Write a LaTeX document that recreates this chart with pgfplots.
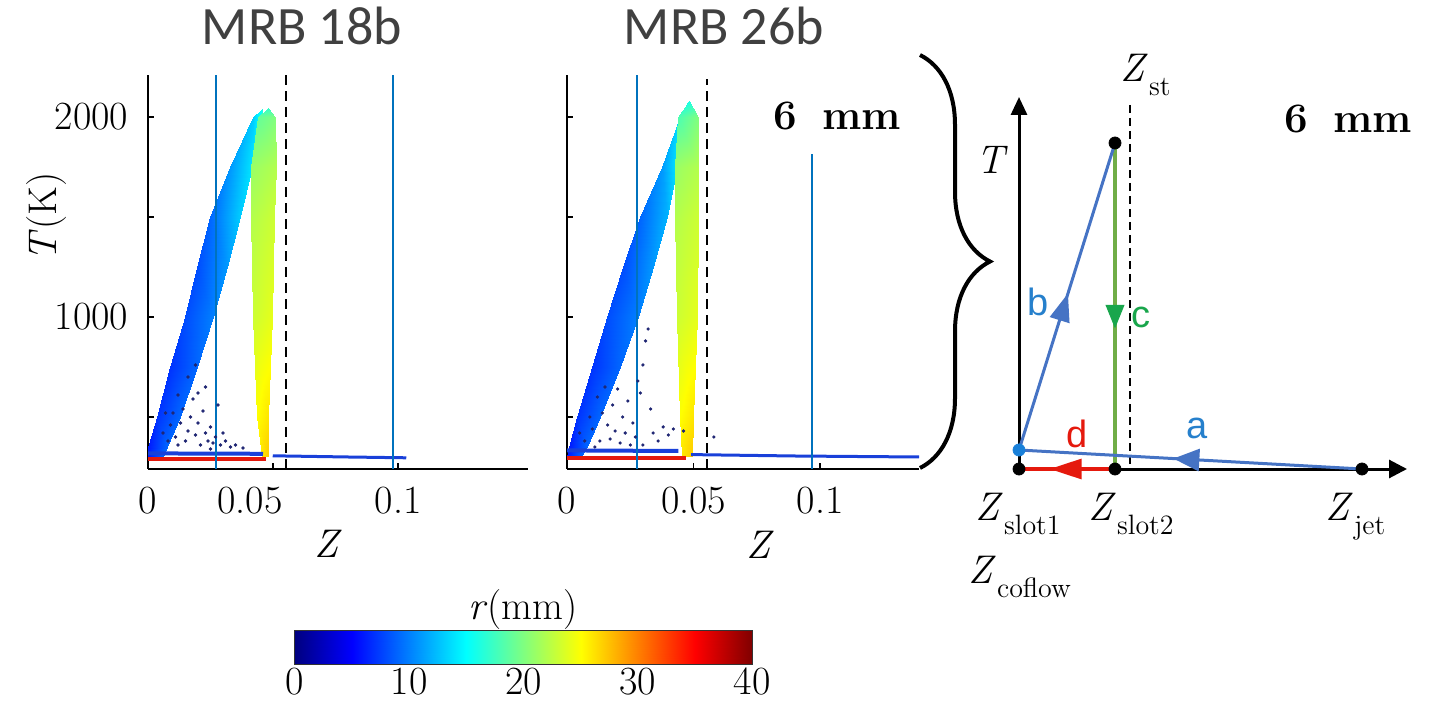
\documentclass[border=0pt]{standalone}
\usepackage{fontspec}
\usepackage{pgfplots}
\pgfplotsset{compat=1.18}
\usetikzlibrary{arrows.meta,decorations.markings,decorations.pathreplacing}
\newfontfamily\carlito{Carlito}
\newfontfamily\libsans{Liberation Sans}
\newcommand{\fs}{\fontsize{20}{24}\selectfont}
\newcommand{\Zs}[1]{\textit{Z}\kern0.5pt\raisebox{-7pt}{\fontsize{14}{16}\selectfont #1}}
\definecolor{mblue}{rgb}{0,0.447,0.741}
\definecolor{sblue}{rgb}{0.27,0.45,0.77}
\definecolor{sdot}{rgb}{0.1,0.5,0.85}
\definecolor{sgreen}{rgb}{0.44,0.68,0.28}
\definecolor{sgreenA}{rgb}{0.1,0.65,0.3}
\definecolor{labblue}{rgb}{0.15,0.5,0.8}
\definecolor{titlegray}{rgb}{0.25,0.25,0.25}
\definecolor{stripblue}{rgb}{0.1,0.25,0.85}
\definecolor{stripred}{rgb}{0.9,0.1,0.05}
\definecolor{dotnavy}{rgb}{0.12,0.15,0.45}

\pgfplotsset{
  mrb/.style={
    anchor=south west, scale only axis, height=197pt,
    ymin=240, ymax=2210,
    axis x line*=bottom, axis y line*=left,
    axis line style={line width=1pt, -},
    tick align=inside, major tick length=3pt,
    tick style={line width=0.8pt, black},
    ytick={500,1000,1500,2000},
    tick label style={font=\fs},
    /pgf/number format/assume math mode=true,
    xticklabel style={yshift=-5.5pt},
    yticklabel style={xshift=-6.3pt},
    scaled x ticks=false,
    colormap/jet, point meta min=0, point meta max=40,
  },
  band/.style={patch, shader=interp, point meta=explicit},
}

\begin{document}
\begin{tikzpicture}
\path[use as bounding box] (0pt,0pt) rectangle (717.5pt,353pt);

% ---------------- MRB 18b ----------------
\begin{axis}[mrb, at={(74pt,118.5pt)}, width=190pt,
  xmin=0, xmax=0.152,
  xtick={0,0.05,0.1}, xticklabels={0,,0.1},
  extra x ticks={0.0408}, extra x tick labels={0.05},
  extra x tick style={major tick length=0pt, grid=none},
  yticklabels={,1000,,2000}]
% branch b (lean side)
\addplot[band] table[meta=c] {
x y c
0.0000 300 6
0.0060 300 9
0.0001 350 6
0.0060 300 9
0.0075 350 9
0.0001 350 6
0.0001 350 6
0.0075 350 9
0.0035 500 7
0.0075 350 9
0.0128 500 9
0.0035 500 7
0.0035 500 7
0.0128 500 9
0.0088 750 7
0.0128 500 9
0.0195 750 9
0.0088 750 7
0.0088 750 7
0.0195 750 9
0.0148 1000 8
0.0195 750 9
0.0261 1000 10
0.0148 1000 8
0.0148 1000 8
0.0261 1000 10
0.0195 1250 8
0.0261 1000 10
0.0315 1250 11
0.0195 1250 8
0.0195 1250 8
0.0315 1250 11
0.0248 1500 9
0.0315 1250 11
0.0368 1500 13
0.0248 1500 9
0.0248 1500 9
0.0368 1500 13
0.0328 1750 11
0.0368 1500 13
0.0415 1750 14
0.0328 1750 11
0.0328 1750 11
0.0415 1750 14
0.0421 2000 13
0.0415 1750 14
0.0461 2000 16
0.0421 2000 13
0.0421 2000 13
0.0461 2000 16
0.0455 2040 16
};
% vertical band c
\addplot[band] table[meta=c] {
x y c
0.0455 300 26
0.0481 300 27
0.0435 500 25
0.0481 300 27
0.0481 500 26
0.0435 500 25
0.0435 500 25
0.0481 500 26
0.0420 1000 23
0.0481 500 26
0.0495 1000 24
0.0420 1000 23
0.0420 1000 23
0.0495 1000 24
0.0413 1500 22
0.0495 1000 24
0.0505 1500 23
0.0413 1500 22
0.0413 1500 22
0.0505 1500 23
0.0413 1750 21
0.0505 1500 23
0.0513 1750 22
0.0413 1750 21
0.0413 1750 21
0.0513 1750 22
0.0440 2000 19
0.0513 1750 22
0.0510 2000 20
0.0440 2000 19
0.0440 2000 19
0.0510 2000 20
0.0478 2045 17
};
% mixing lines a and d
\addplot[stripblue, line width=2pt] coordinates {(0,318) (0.046,316)};
\addplot[stripblue, line width=1.5pt] coordinates {(0.0499,306) (0.080,300) (0.1033,296)};
\addplot[stripred, line width=2pt] coordinates {(0,292) (0.047,292)};
% scattered samples
\addplot[only marks, mark=*, mark size=0.6pt, dotnavy] coordinates {
(0.006,420) (0.008,380) (0.009,460) (0.010,520) (0.011,400) (0.012,610)
(0.013,470) (0.014,540) (0.015,380) (0.016,430) (0.017,500) (0.018,590)
(0.019,410) (0.020,470) (0.021,360) (0.022,530) (0.023,420) (0.024,380)
(0.025,450) (0.026,370) (0.027,400) (0.029,360) (0.031,380) (0.033,350)
(0.035,360) (0.038,345) (0.016,700) (0.019,760) (0.023,650) (0.028,560)
(0.012,360) (0.007,520) (0.020,620) (0.025,340) (0.030,420)};
% reference lines
\addplot[mblue, line width=1pt] coordinates {(0.0272,240) (0.0272,2210)};
\addplot[mblue, line width=1pt] coordinates {(0.0980,240) (0.0980,2210)};
\addplot[black, line width=1.2pt, dash pattern=on 5pt off 3pt] coordinates {(0.0552,240) (0.0552,2210)};
\end{axis}

% ---------------- MRB 26b ----------------
\begin{axis}[mrb, at={(283.5pt,118.5pt)}, width=176pt,
  xmin=0, xmax=0.139,
  xtick={0,0.05,0.1}, xticklabels={0,0.05,0.1},
  yticklabels={}]
\addplot[band] table[meta=c] {
x y c
0.0000 300 6
0.0055 300 9
0.0009 350 6
0.0055 300 9
0.0078 350 9
0.0009 350 6
0.0009 350 6
0.0078 350 9
0.0038 500 7
0.0078 350 9
0.0130 500 9
0.0038 500 7
0.0038 500 7
0.0130 500 9
0.0098 750 7
0.0130 500 9
0.0209 750 9
0.0098 750 7
0.0098 750 7
0.0209 750 9
0.0157 1000 8
0.0209 750 9
0.0282 1000 10
0.0157 1000 8
0.0157 1000 8
0.0282 1000 10
0.0223 1250 8
0.0282 1000 10
0.0341 1250 11
0.0223 1250 8
0.0223 1250 8
0.0341 1250 11
0.0289 1500 9
0.0341 1250 11
0.0394 1500 12
0.0289 1500 9
0.0289 1500 9
0.0394 1500 12
0.0374 1750 11
0.0394 1500 12
0.0434 1750 14
0.0374 1750 11
0.0374 1750 11
0.0434 1750 14
0.0447 2000 14
0.0434 1750 14
0.0480 2000 16
0.0447 2000 14
0.0447 2000 14
0.0480 2000 16
0.0478 2075 16
};
\addplot[band] table[meta=c] {
x y c
0.0453 300 26
0.0493 300 27
0.0445 500 25
0.0493 300 27
0.0499 500 26
0.0445 500 25
0.0445 500 25
0.0499 500 26
0.0434 1000 23
0.0499 500 26
0.0513 1000 24
0.0434 1000 23
0.0434 1000 23
0.0513 1000 24
0.0427 1500 22
0.0513 1000 24
0.0519 1500 23
0.0427 1500 22
0.0427 1500 22
0.0519 1500 23
0.0427 1750 21
0.0519 1500 23
0.0519 1750 22
0.0427 1750 21
0.0427 1750 21
0.0519 1750 22
0.0440 2000 18
0.0519 1750 22
0.0519 2000 20
0.0440 2000 18
0.0440 2000 18
0.0519 2000 20
0.0480 2080 16
};
\addplot[stripblue, line width=2pt] coordinates {(0,333) (0.044,330)};
\addplot[stripblue, line width=1.5pt] coordinates {(0.049,312) (0.090,305) (0.139,300)};
\addplot[stripred, line width=2pt] coordinates {(0,294) (0.047,294)};
\addplot[only marks, mark=*, mark size=0.6pt, dotnavy] coordinates {
(0.005,420) (0.007,380) (0.009,500) (0.010,440) (0.012,600) (0.013,380)
(0.014,520) (0.016,460) (0.017,390) (0.018,560) (0.019,430) (0.020,640)
(0.021,370) (0.022,500) (0.023,420) (0.024,580) (0.025,360) (0.026,470)
(0.027,400) (0.028,680) (0.029,620) (0.030,760) (0.031,880) (0.032,940)
(0.033,540) (0.034,420) (0.036,380) (0.038,450) (0.040,410) (0.042,440)
(0.046,430) (0.058,400) (0.011,350) (0.015,650) (0.030,360)};
\addplot[mblue, line width=0.8pt] coordinates {(0.0277,240) (0.0277,2210)};
\addplot[mblue, line width=0.8pt] coordinates {(0.0968,240) (0.0968,1815)};
\addplot[black, line width=1.2pt, dash pattern=on 5pt off 3pt] coordinates {(0.0553,240) (0.0553,2190)};
\end{axis}

% ---------------- colour bar r(mm) ----------------
\begin{axis}[at={(147.5pt,21pt)}, anchor=south west, scale only axis,
  width=228.5pt, height=16.5pt,
  xmin=0, xmax=40, ymin=0, ymax=1,
  colormap/jet, point meta min=0, point meta max=40,
  xtick={0,10,20,30,40}, ytick=\empty, major tick length=0pt,
  axis line style={line width=0.6pt, black!80},
  tick label style={font=\fs},
  /pgf/number format/assume math mode=true,
  xticklabel style={yshift=1.5pt}]
\addplot[band] table[meta=c] {
x y c
0 0 0
5 0 5
0 1 0
5 0 5
5 1 5
0 1 0
5 0 5
15 0 15
5 1 5
15 0 15
15 1 15
5 1 5
15 0 15
25 0 25
15 1 15
25 0 25
25 1 25
15 1 15
25 0 25
35 0 35
25 1 25
35 0 35
35 1 35
25 1 25
35 0 35
40 0 40
35 1 35
40 0 40
40 1 40
35 1 35
};
\end{axis}

% ---------------- annotations and schematic (pixel frame) ----------------
\begin{axis}[at={(0pt,0pt)}, anchor=south west, scale only axis,
  width=717.5pt, height=353pt, xmin=0, xmax=1435, ymin=0, ymax=706,
  y dir=reverse, hide axis, clip=false]
% titles and labels
\node[anchor=base, font=\carlito\fontsize{27}{30}\selectfont, text=titlegray] at (302,45) {MRB 18b};
\node[anchor=base, font=\carlito\fontsize{27}{30}\selectfont, text=titlegray] at (724,45) {MRB 26b};
\node[rotate=90, font=\fs] at (47,217) {\textit{T}(K)};
\node[font=\fs] at (328,544) {\textit{Z}};
\node[font=\fs] at (760,545) {\textit{Z}};
\node[font=\fs] at (523,610) {\textit{r}(mm)};
\node[font=\fontsize{21}{25}\selectfont\bfseries] at (837,116) {6\hspace{0.6em}mm};
\node[font=\fontsize{21}{25}\selectfont\bfseries] at (1348,119) {6\hspace{0.6em}mm};
% brace
\draw[line width=2pt, decorate, decoration={brace, amplitude=35pt}] (920,55) -- (920,468);
% schematic axes
\addplot[black, line width=1.5pt, -{Triangle[length=9pt,width=8pt]}] coordinates {(1019,469) (1019,97)};
\addplot[black, line width=1.5pt, -{Triangle[length=9pt,width=9pt]}] coordinates {(1019,469) (1407,469)};
\addplot[black, line width=0.8pt, dash pattern=on 4pt off 2.5pt] coordinates {(1130,105) (1130,469)};
% paths d, c, a, b
\addplot[stripred, line width=1.6pt, postaction={decorate},
  decoration={markings, mark=at position 0.68 with {\arrow{Triangle[length=16pt,width=10pt]}}}]
  coordinates {(1115,469) (1019,469)};
\addplot[sgreen, line width=2pt, postaction={decorate},
  decoration={markings, mark=at position 0.57 with {\arrow{Triangle[length=12pt,width=9pt,color=sgreenA]}}}]
  coordinates {(1115,143) (1115,469)};
\addplot[sblue, line width=1.5pt, postaction={decorate},
  decoration={markings, mark=at position 0.55 with {\arrow{Triangle[length=13pt,width=11pt]}}}]
  coordinates {(1362,469) (1019,450)};
\addplot[sblue, line width=1.5pt, postaction={decorate},
  decoration={markings, mark=at position 0.51 with {\arrow{Triangle[length=14pt,width=10pt]}}}]
  coordinates {(1019,450) (1115,143)};
\addplot[only marks, mark=*, mark size=3pt, black] coordinates {(1019,469) (1115,469) (1362,469) (1115,143)};
\addplot[only marks, mark=*, mark size=3pt, sdot] coordinates {(1019,450)};
% schematic labels
\node[font=\libsans\fontsize{19}{22}\selectfont, text=labblue] at (1197,428) {a};
\node[font=\libsans\fontsize{19}{22}\selectfont, text=labblue] at (1038,302) {b};
\node[font=\libsans\fontsize{19}{22}\selectfont, text=sgreenA] at (1141,317) {c};
\node[font=\libsans\fontsize{19}{22}\selectfont, text=stripred] at (1077,434) {d};
\node[font=\fs] at (992,160) {\textit{T}};
\node[font=\fs, anchor=base west, inner sep=0pt] at (1120,82) {\Zs{st}};
\node[font=\fs, anchor=base west, inner sep=0pt] at (975,520) {\Zs{slot1}};
\node[font=\fs, anchor=base west, inner sep=0pt] at (1088,520) {\Zs{slot2}};
\node[font=\fs, anchor=base west, inner sep=0pt] at (1325,520) {\Zs{jet}};
\node[font=\fs, anchor=base west, inner sep=0pt] at (968,583) {\Zs{coflow}};
\end{axis}
\end{tikzpicture}
\end{document}
